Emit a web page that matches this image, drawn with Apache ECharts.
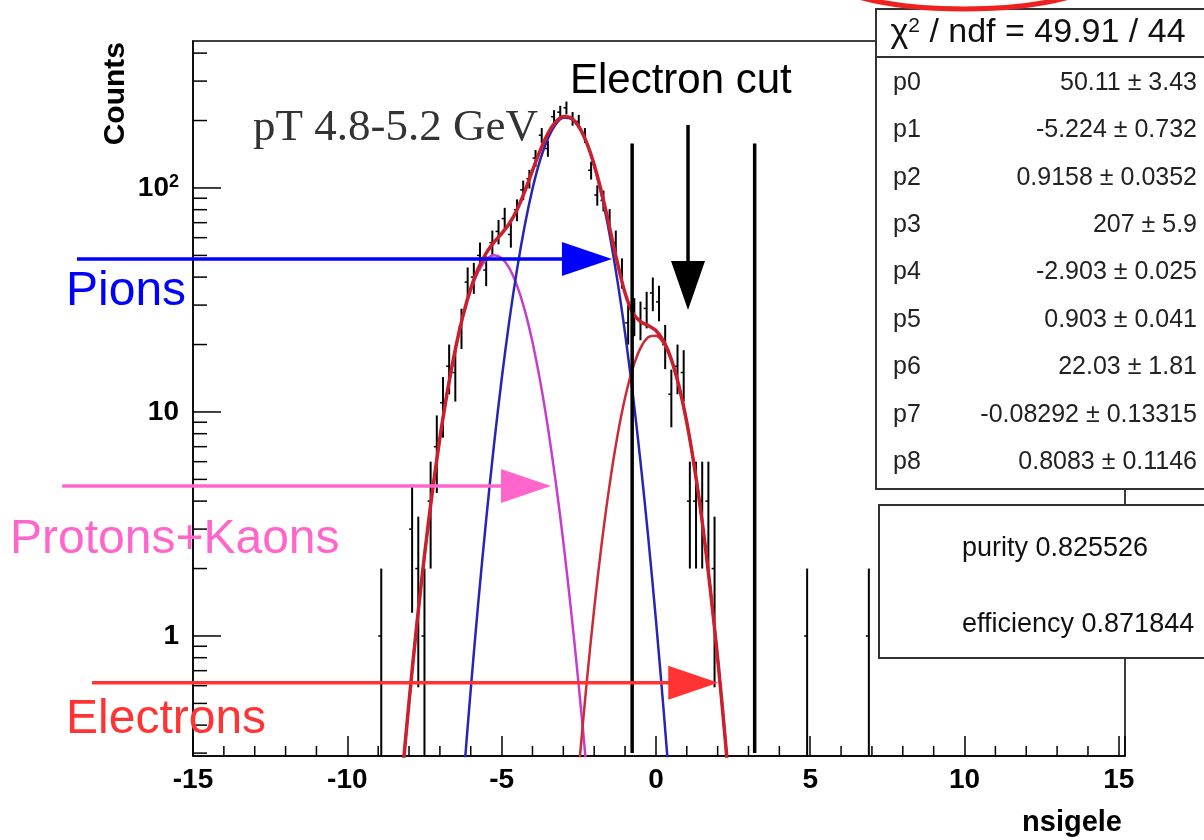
<!DOCTYPE html>
<html>
<head>
<meta charset="utf-8">
<title>nsigele, pT 4.8-5.2 GeV</title>
<script src="https://cdn.jsdelivr.net/npm/echarts@6/dist/echarts.min.js"></script>
<style>
html, body { margin: 0; padding: 0; background: #fff; }
#chart { width: 1204px; height: 840px; }
</style>
</head>
<body>
<div id="chart"></div>
<script>
// histogram: non-empty bins (width 0.2), counts and their errors
var binX = [-8.9, -7.9, -7.7, -7.5, -7.3, -7.1, -6.9, -6.7, -6.5, -6.3, -6.1, -5.9, -5.7, -5.5, -5.3, -5.1, -4.9, -4.7, -4.5, -4.3, -4.1,
    -3.9, -3.7, -3.5, -3.3, -3.1, -2.9, -2.7, -2.5, -2.3, -2.1, -1.9, -1.7, -1.5, -1.3, -1.1, -0.9, -0.7, -0.5, -0.3, -0.1,
    0.1, 0.3, 0.5, 0.7, 0.9, 1.1, 1.3, 1.5, 1.7, 1.9, 4.9, 6.9];
var binCounts = [1, 3, 2, 1, 4, 7, 11, 16, 15, 24, 38, 40, 50, 43, 57, 64, 73, 62, 80, 98, 110,
    136, 172, 150, 208, 218, 228, 204, 198, 172, 120, 93, 88, 72, 57, 42, 25, 27, 26, 29, 34,
    31, 20, 12, 16, 15, 4, 4, 4, 4, 2, 1, 1];
var binErrors = [1, 1.73, 1.41, 1, 2, 2.65, 3.32, 4, 3.87, 4.9, 6.16, 6.32, 7.07, 6.56, 7.55, 8, 8.54, 7.87, 8.94, 9.9, 10.49,
    11.66, 13.11, 12.25, 14.42, 14.76, 15.1, 14.28, 14.07, 13.11, 10.95, 9.64, 9.38, 8.49, 7.55, 6.48, 5, 5.2, 5.1, 5.39, 5.83,
    5.57, 4.47, 3.46, 4, 3.87, 2, 2, 2, 2, 1.41, 1, 1];

// fitted curves
var totalX = [-8.5, -8.25, -8, -7.75, -7.5, -7.25, -7, -6.75, -6.5, -6.25, -6, -5.75, -5.5, -5.25, -5, -4.75, -4.5, -4.25, -4, -3.75, -3.5,
    -3.25, -3, -2.75, -2.5, -2.25, -2, -1.75, -1.5, -1.25, -1, -0.75, -0.5, -0.25, 0, 0.25, 0.5, 0.75, 1, 1.25, 1.5, 1.75, 2, 2.25, 2.5];
var totalY = [0.083, 0.213, 0.507, 1.117, 2.285, 4.336, 7.643, 12.52, 19.05, 26.98, 35.58, 43.94, 51.19, 57.17, 62.56, 69.39, 80.0, 96.52, 119.5, 147.1, 174.9,
    197.1, 208.4, 205.5, 188.3, 160.3, 127.0, 94.3, 66.6, 46.5, 34.0, 27.7, 25.3, 24.3, 23.1, 20.7, 17.2, 13.0, 9.0, 5.65, 3.24, 1.68, 0.796, 0.342, 0.133];
var pionX = [-6.5, -6.25, -6, -5.75, -5.5, -5.25, -5, -4.75, -4.5, -4.25, -4, -3.75, -3.5, -3.25, -3, -2.75, -2.5, -2.25, -2, -1.75, -1.5,
    -1.25, -1, -0.75, -0.5, -0.25, 0, 0.25, 0.5];
var pionY = [0.074, 0.215, 0.578, 1.44, 3.31, 7.07, 13.96, 25.56, 43.33, 68.04, 98.97, 133.4, 166.4, 192.2, 205.8, 204.1, 187.4, 159.4, 125.6, 91.6, 61.9,
    38.77, 22.47, 12.07, 6.0, 2.765, 1.18, 0.466, 0.171];
var protonKaonX = [-8.5, -8.25, -8, -7.75, -7.5, -7.25, -7, -6.75, -6.5, -6.25, -6, -5.75, -5.5, -5.25, -5, -4.75, -4.5, -4.25, -4, -3.75, -3.5,
    -3.25, -3, -2.75, -2.5, -2.25, -2];
var protonKaonY = [0.083, 0.213, 0.507, 1.117, 2.285, 4.336, 7.643, 12.5, 18.98, 26.76, 35.0, 42.5, 47.88, 50.1, 48.6, 43.83, 36.67, 28.48, 20.52, 13.73, 8.52,
    4.91, 2.63, 1.3, 0.601, 0.257, 0.102];
var electronX = [-2.75, -2.5, -2.25, -2, -1.75, -1.5, -1.25, -1, -0.75, -0.5, -0.25, 0, 0.25, 0.5, 0.75, 1, 1.25, 1.5, 1.75, 2, 2.25, 2.5];
var electronY = [0.095, 0.252, 0.605, 1.323, 2.627, 4.74, 7.77, 11.57, 15.67, 19.28, 21.56, 21.91, 20.24, 16.98, 12.95, 8.98, 5.65, 3.24, 1.68, 0.796, 0.342, 0.133];

// axis ranges and ticks
var xMin = -15, xMax = 15.2;
var yMin = 0.2912, yMax = 453;
var xMinorTicks = [-14, -13, -12, -11, -9, -8, -7, -6, -4, -3, -2, -1, 1, 2, 3, 4, 6, 7, 8, 9, 11, 12, 13, 14];
var yMajorTicks = [1, 10, 100];
var yMinorTicks = [0.3, 0.4, 0.5, 0.6, 0.7, 0.8, 0.9, 2, 3, 4, 5, 6, 7, 8, 9, 20, 30, 40, 50, 60, 70, 80, 90, 200, 300, 400];

// electron cut and hand drawn arrows (data coordinates)
var cutX = [-0.77, 3.2];
var cutTop = 158;
var arrowStartX = [-18.76, -19.24, -18.27];
var arrowTipX = [-1.425, -3.4, 2.02];
var arrowY = [48.2, 4.67, 0.619];
var arrowColors = ['#0000ff', '#ff66cc', '#ff3333'];
var cutArrow = [1.04, 191, 28.5];

// fit box text
var chiText = ' / ndf = 49.91 / 44';
var parNames = ['p0', 'p1', 'p2', 'p3', 'p4', 'p5', 'p6', 'p7', 'p8'];
var parValues = ['50.11', '-5.224', '0.9158', '207', '-2.903', '0.903', '22.03', '-0.08292', '0.8083'];
var parErrors = ['3.43', '0.732', '0.0352', '5.9', '0.025', '0.041', '1.81', '0.13315', '0.1146'];

var sans = "'Liberation Sans', Arial, Helvetica, sans-serif";
var serif = "'Liberation Serif', 'Times New Roman', serif";

function pairs(xs, ys) {
    return xs.map(function (x, i) { return [x, ys[i]]; });
}

// tick marks on the left axis, drawn inward
function yTickSeries(name, values, len) {
    return {
        name: name, type: 'custom', z: 4, silent: true, clip: false,
        data: values.map(function (v) { return [xMin, v]; }),
        renderItem: function (params, api) {
            var p = api.coord([api.value(0), api.value(1)]);
            return { type: 'line', shape: { x1: p[0], y1: p[1], x2: p[0] + len, y2: p[1] }, style: { stroke: '#000', lineWidth: 1.5 } };
        }
    };
}

var histData = binX.map(function (x, i) { return [x, binCounts[i], binErrors[i]]; });

var graphics = [
    { type: 'ellipse', z: 60, shape: { cx: 964, cy: -30, rx: 146, ry: 39 }, style: { fill: 'none', stroke: '#ee2020', lineWidth: 5 } },
    { type: 'rect', z: 50, shape: { x: 876, y: 9, width: 360, height: 480 }, style: { fill: '#fff', stroke: '#333', lineWidth: 2 } },
    { type: 'line', z: 51, shape: { x1: 876, y1: 57, x2: 1210, y2: 57 }, style: { stroke: '#333', lineWidth: 2 } },
    { type: 'text', z: 52, x: 1038, y: 33, style: {
        text: '{c|χ}{s|2}{c|' + chiText + '}', align: 'center', verticalAlign: 'middle',
        rich: {
            c: { fontSize: 34, fontFamily: sans, fill: '#111' },
            s: { fontSize: 21, fontFamily: sans, fill: '#111', verticalAlign: 'top', padding: [0, 0, 12, 0] }
        }
    } },
    { type: 'rect', z: 50, shape: { x: 879, y: 505, width: 360, height: 153 }, style: { fill: '#fff', stroke: '#333', lineWidth: 2 } },
    { type: 'text', z: 52, x: 962, y: 549, style: { text: 'purity 0.825526', fontSize: 27, fontFamily: sans, fill: '#111', align: 'left', verticalAlign: 'middle' } },
    { type: 'text', z: 52, x: 962, y: 625, style: { text: 'efficiency 0.871844', fontSize: 27, fontFamily: sans, fill: '#111', align: 'left', verticalAlign: 'middle' } },
    { type: 'text', z: 40, x: 253, y: 128, style: { text: 'pT 4.8-5.2 GeV', fontSize: 45, fontFamily: serif, fill: '#333', align: 'left', verticalAlign: 'middle' } },
    { type: 'text', z: 40, x: 570, y: 81, style: { text: 'Electron cut', fontSize: 42, fontFamily: sans, fill: '#000', align: 'left', verticalAlign: 'middle' } },
    { type: 'text', z: 40, x: 66, y: 292, style: { text: 'Pions', fontSize: 48, fontFamily: sans, fill: '#0000ff', align: 'left', verticalAlign: 'middle' } },
    { type: 'text', z: 40, x: 10, y: 540, style: { text: 'Protons+Kaons', fontSize: 48, fontFamily: sans, fill: '#ff66cc', align: 'left', verticalAlign: 'middle' } },
    { type: 'text', z: 40, x: 66, y: 720, style: { text: 'Electrons', fontSize: 48, fontFamily: sans, fill: '#ff3333', align: 'left', verticalAlign: 'middle' } }
];
parNames.forEach(function (name, i) {
    var y = 83 + i * 47.4;
    graphics.push({ type: 'text', z: 52, x: 893, y: y, style: { text: name, fontSize: 25, fontFamily: sans, fill: '#222', align: 'left', verticalAlign: 'middle' } });
    graphics.push({ type: 'text', z: 52, x: 1197, y: y, style: { text: parValues[i] + ' ± ' + parErrors[i], fontSize: 25, fontFamily: sans, fill: '#222', align: 'right', verticalAlign: 'middle' } });
});

var option = {
    animation: false,
    backgroundColor: '#fff',
    grid: { left: 193, right: 79, top: 41, bottom: 84, show: true, borderColor: '#000', borderWidth: 1.5, outerBoundsMode: 'none' },
    xAxis: {
        type: 'value', min: xMin, max: xMax, interval: 5,
        name: 'nsigele', nameLocation: 'end', nameGap: -3,
        nameTextStyle: { fontSize: 29, fontWeight: 'bold', fontFamily: sans, color: '#000', align: 'right', verticalAlign: 'top', padding: [52, 0, 0, 0] },
        axisLine: { onZero: false, lineStyle: { color: '#000', width: 1.5 } },
        axisTick: { inside: true, length: 20, lineStyle: { color: '#000', width: 1.5 } },
        axisLabel: {
            margin: 10, fontSize: 28, fontWeight: 'bold', fontFamily: sans, color: '#000',
            formatter: function (v) { return Math.abs(v % 5) < 1e-9 ? String(v) : ''; }
        },
        splitLine: { show: false }
    },
    yAxis: {
        type: 'log', logBase: 10, min: yMin, max: yMax,
        name: 'Counts', nameLocation: 'end', nameRotate: 90, nameGap: -1,
        nameTextStyle: { fontSize: 30, fontWeight: 'bold', fontFamily: sans, color: '#000', align: 'right', verticalAlign: 'bottom', padding: [0, 0, 62, 0] },
        axisLine: { onZero: false, lineStyle: { color: '#000', width: 1.5 } },
        axisTick: { show: false },
        axisLabel: {
            margin: 14, fontSize: 28, fontWeight: 'bold', fontFamily: sans, color: '#000',
            formatter: function (v) {
                var l = Math.log(v) / Math.LN10, r = Math.round(l);
                if (Math.abs(l - r) > 1e-6) return '';
                if (r === 0) return '1';
                if (r === 1) return '10';
                if (r === 2) return '10{s|2}';
                return '';
            },
            rich: { s: { fontSize: 18, fontWeight: 'bold', fontFamily: sans, color: '#000', verticalAlign: 'top', padding: [0, 0, 12, 0] } }
        },
        splitLine: { show: false }
    },
    graphic: { elements: graphics },
    series: [
        {
            name: 'data', type: 'custom', z: 3, data: histData, encode: { x: 0, y: 1 },
            renderItem: function (params, api) {
                var x = api.value(0), n = api.value(1), e = api.value(2);
                var lo = Math.max(n - e, yMin);
                var hi = api.coord([x, n + e]), low = api.coord([x, lo]), mid = api.coord([x, n]);
                return { type: 'group', children: [
                    { type: 'line', shape: { x1: hi[0], y1: hi[1], x2: low[0], y2: low[1] }, style: { stroke: '#000', lineWidth: 2 } },
                    { type: 'line', shape: { x1: mid[0] - 3, y1: mid[1], x2: mid[0], y2: mid[1] }, style: { stroke: '#000', lineWidth: 1.5 } }
                ] };
            }
        },
        {
            name: 'minor ticks x', type: 'custom', z: 4, silent: true, clip: false,
            data: xMinorTicks.map(function (x) { return [x, yMin]; }),
            renderItem: function (params, api) {
                var p = api.coord([api.value(0), api.value(1)]);
                return { type: 'line', shape: { x1: p[0], y1: p[1], x2: p[0], y2: p[1] - 10 }, style: { stroke: '#000', lineWidth: 1.5 } };
            }
        },
        yTickSeries('major ticks y', yMajorTicks, 28),
        yTickSeries('minor ticks y', yMinorTicks, 14),
        { name: 'protons+kaons', type: 'line', z: 5, data: pairs(protonKaonX, protonKaonY), smooth: 0.3, showSymbol: false, lineStyle: { color: '#c83ccc', width: 2.5 } },
        { name: 'pions', type: 'line', z: 5, data: pairs(pionX, pionY), smooth: 0.3, showSymbol: false, lineStyle: { color: '#2626b4', width: 2.5 } },
        { name: 'electrons', type: 'line', z: 5, data: pairs(electronX, electronY), smooth: 0.3, showSymbol: false, lineStyle: { color: '#cc2a36', width: 2.5 } },
        { name: 'total', type: 'line', z: 6, data: pairs(totalX, totalY), smooth: 0.3, showSymbol: false, lineStyle: { color: '#cc1f2c', width: 3.5 } },
        {
            name: 'electron cut', type: 'custom', z: 7, silent: true,
            data: cutX.map(function (x) { return [x, cutTop]; }),
            renderItem: function (params, api) {
                var top = api.coord([api.value(0), api.value(1)]), bot = api.coord([api.value(0), yMin]);
                return { type: 'line', shape: { x1: top[0], y1: top[1], x2: bot[0], y2: bot[1] - 3 }, style: { stroke: '#000', lineWidth: 3.5 } };
            }
        },
        {
            name: 'arrows', type: 'custom', z: 8, silent: true, clip: false, encode: { x: [0, 1], y: 2 },
            data: arrowStartX.map(function (x, i) { return [x, arrowTipX[i], arrowY[i]]; }),
            renderItem: function (params, api) {
                var start = api.coord([api.value(0), api.value(2)]);
                var tip = api.coord([api.value(1), api.value(2)]);
                var c = arrowColors[params.dataIndex];
                return { type: 'group', children: [
                    { type: 'line', shape: { x1: start[0], y1: start[1], x2: tip[0] - 48, y2: tip[1] }, style: { stroke: c, lineWidth: 3.5 } },
                    { type: 'polygon', shape: { points: [[tip[0], tip[1]], [tip[0] - 50, tip[1] - 17], [tip[0] - 50, tip[1] + 17]] }, style: { fill: c } }
                ] };
            }
        },
        {
            name: 'cut arrow', type: 'custom', z: 8, silent: true, clip: false, encode: { x: 0, y: [1, 2] },
            data: [cutArrow],
            renderItem: function (params, api) {
                var top = api.coord([api.value(0), api.value(1)]);
                var tip = api.coord([api.value(0), api.value(2)]);
                return { type: 'group', children: [
                    { type: 'line', shape: { x1: top[0], y1: top[1], x2: tip[0], y2: tip[1] - 46 }, style: { stroke: '#000', lineWidth: 3.5 } },
                    { type: 'polygon', shape: { points: [[tip[0], tip[1]], [tip[0] - 17, tip[1] - 49], [tip[0] + 17, tip[1] - 49]] }, style: { fill: '#000' } }
                ] };
            }
        }
    ]
};

var myChart = echarts.init(document.getElementById('chart'));
myChart.setOption(option);
</script>
</body>
</html>
